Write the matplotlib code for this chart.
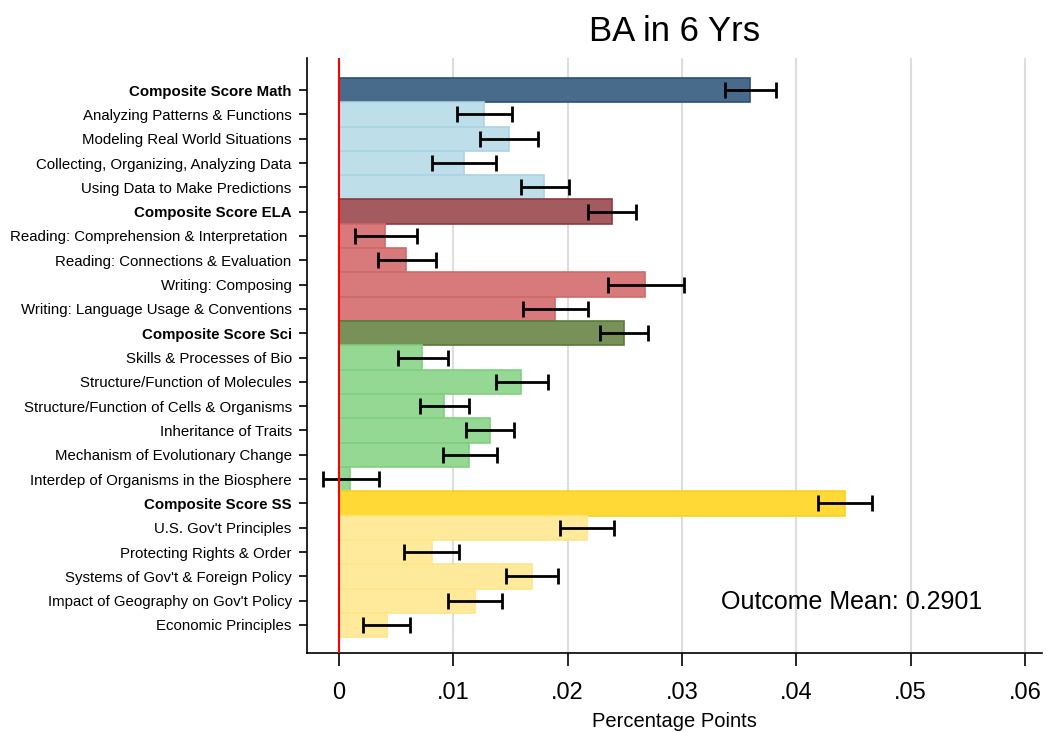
import numpy as np
import matplotlib
matplotlib.use("Agg")
import matplotlib.pyplot as plt

plt.rcParams['font.family'] = ['Liberation Sans', 'DejaVu Sans']

# data (coefficients and 95% CI ends)
labels = [
    "Composite Score Math",
    "Analyzing Patterns & Functions",
    "Modeling Real World Situations",
    "Collecting, Organizing, Analyzing Data",
    "Using Data to Make Predictions",
    "Composite Score ELA",
    "Reading: Comprehension & Interpretation ",
    "Reading: Connections & Evaluation",
    "Writing: Composing",
    "Writing: Language Usage & Conventions",
    "Composite Score Sci",
    "Skills & Processes of Bio",
    "Structure/Function of Molecules",
    "Structure/Function of Cells & Organisms",
    "Inheritance of Traits",
    "Mechanism of Evolutionary Change",
    "Interdep of Organisms in the Biosphere",
    "Composite Score SS",
    "U.S. Gov't Principles",
    "Protecting Rights & Order",
    "Systems of Gov't & Foreign Policy",
    "Impact of Geography on Gov't Policy",
    "Economic Principles",
]
coef = [0.0360, 0.0127, 0.0149, 0.0109, 0.0179,
        0.0239, 0.0040, 0.0059, 0.0268, 0.0189,
        0.0249, 0.0073, 0.0159, 0.0092, 0.0132, 0.0114, 0.0010,
        0.0443, 0.0217, 0.0081, 0.0169, 0.0119, 0.0042]
ci_lo = [0.0338, 0.0103, 0.0123, 0.0081, 0.0159,
         0.0218, 0.0014, 0.0034, 0.0235, 0.0161,
         0.0228, 0.0052, 0.0137, 0.0071, 0.0111, 0.0091, -0.0014,
         0.0419, 0.0193, 0.0057, 0.0146, 0.0095, 0.0021]
ci_hi = [0.0382, 0.0151, 0.0174, 0.0137, 0.0201,
         0.0260, 0.0068, 0.0085, 0.0302, 0.0218,
         0.0270, 0.0095, 0.0183, 0.0114, 0.0153, 0.0138, 0.0035,
         0.0466, 0.0241, 0.0105, 0.0192, 0.0143, 0.0062]
group = ["math"] * 5 + ["ela"] * 5 + ["sci"] * 7 + ["ss"] * 6
is_composite = [lab.startswith("Composite") for lab in labels]

outcome_mean = 0.2901
xticks = [0, 0.01, 0.02, 0.03, 0.04, 0.05, 0.06]
xticklabels = ["0", ".01", ".02", ".03", ".04", ".05", ".06"]

# (composite fill, composite edge, sub fill, sub edge)
colors = {
    "math": ("#486A8B", "#2C4F73", "#BEDFEA", "#AAD4E3"),
    "ela": ("#A45B5F", "#8E3A40", "#D87A7B", "#CF6A6B"),
    "sci": ("#789158", "#5A7A3A", "#94D894", "#80CF80"),
    "ss": ("#FFD935", "#FFCF1F", "#FFEA9C", "#FFE488"),
}

fig = plt.figure(figsize=(10.47, 7.32), dpi=100)
ax = fig.add_axes([0.2932, 0.108, 0.702, 0.8128])

y = np.arange(len(labels))
face = [colors[g][0] if c else colors[g][2] for g, c in zip(group, is_composite)]
edge = [colors[g][1] if c else colors[g][3] for g, c in zip(group, is_composite)]

ax.barh(y, coef, height=1.0, color=face, edgecolor=edge, linewidth=1.2, zorder=2)

coef_a = np.array(coef)
xerr = [coef_a - np.array(ci_lo), np.array(ci_hi) - coef_a]
ax.errorbar(coef, y, xerr=xerr, fmt="none", ecolor="black", elinewidth=2,
            capsize=6, capthick=2, zorder=4)

ax.axvline(0, color="red", linewidth=1.5, zorder=5)

ax.set_xlim(-0.0028, 0.0615)
ax.set_ylim(23.15, -1.32)
ax.set_xticks(xticks)
ax.set_xticklabels(xticklabels, fontsize=17)
ax.set_yticks(y)
ax.set_yticklabels(labels, fontsize=10.8)
for tl, c in zip(ax.get_yticklabels(), is_composite):
    if c:
        tl.set_fontweight("bold")

ax.xaxis.grid(True, color="#DDDDDD", linewidth=1.5, zorder=0)
ax.set_axisbelow(True)
for s in ["top", "right"]:
    ax.spines[s].set_visible(False)
ax.spines["left"].set_linewidth(1.2)
ax.spines["bottom"].set_linewidth(1.2)
ax.tick_params(axis="x", length=9, width=1.2, pad=12)
ax.tick_params(axis="y", length=6, width=1.2, pad=5)

ax.set_xlabel("Percentage Points", fontsize=14.5, labelpad=6)
fig.text(0.644, 0.957, "BA in 6 Yrs", fontsize=25, ha="center", va="center")
ax.text(0.0334, 21.05, "Outcome Mean: %.4f" % outcome_mean, fontsize=18,
        ha="left", va="center")

fig.savefig("out.png", dpi=100)
